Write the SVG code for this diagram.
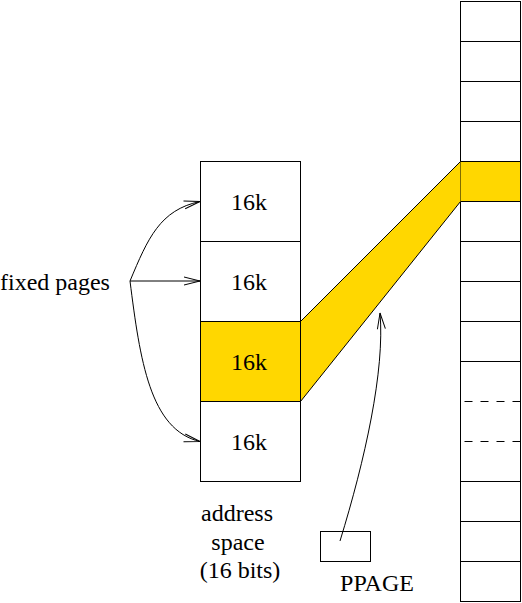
<svg xmlns="http://www.w3.org/2000/svg" width="522" height="603" viewBox="0 0 522 603">
<style>
.b{fill:#fff;stroke:#000;stroke-width:1}
.y{fill:#ffd700;stroke:#000;stroke-width:1}
.l{fill:none;stroke:#000;stroke-width:1}
.d{fill:none;stroke:#000;stroke-width:1;stroke-dasharray:8,8}
.c{text-anchor:middle}
text{font-family:"Liberation Serif",serif !important;font-size:24px}
</style>
<defs>
<marker id="ah" markerUnits="userSpaceOnUse" markerWidth="20" markerHeight="12" refX="16" refY="5" orient="auto" overflow="visible">
<path d="M0,1 L16,5 L0,9" fill="none" stroke="#000" stroke-width="1"/>
</marker>
</defs>
<rect width="522" height="603" fill="#fff"/>
<g id="memory">
<rect class="b" x="460.5" y="1.5" width="60" height="600"/>
<rect class="y" x="460.5" y="161.5" width="60" height="40"/>
<path class="l" d="M460.5,41.5H520.5M460.5,81.5H520.5M460.5,121.5H520.5M460.5,241.5H520.5M460.5,281.5H520.5M460.5,321.5H520.5M460.5,361.5H520.5M460.5,481.5H520.5M460.5,521.5H520.5M460.5,561.5H520.5"/>
<path class="d" d="M464.5,401.5H520.5M464.5,441.5H520.5"/>
</g>
<g id="band">
<polygon points="300.5,321.5 460.5,161.5 460.5,201.5 300.5,401.5" fill="#ffd700" stroke="none"/>
<path class="l" d="M300.5,321.5L460.5,161.5M300.5,401.5L460.5,201.5"/>
</g>
<g id="page1"><rect class="b" x="200.5" y="161.5" width="100" height="80"/><text x="249" y="210" text-anchor="middle" font-family="Liberation Serif" font-size="24" style="font-family:'Liberation Serif',serif !important">16k</text></g>
<g id="page2"><rect class="b" x="200.5" y="241.5" width="100" height="80"/><text x="249" y="290" text-anchor="middle" font-family="Liberation Serif" font-size="24" style="font-family:'Liberation Serif',serif !important">16k</text></g>
<g id="page3"><rect class="y" x="200.5" y="321.5" width="100" height="80"/><text x="249" y="370" text-anchor="middle" font-family="Liberation Serif" font-size="24" style="font-family:'Liberation Serif',serif !important">16k</text></g>
<g id="page4"><rect class="b" x="200.5" y="401.5" width="100" height="80"/><text x="249" y="450" text-anchor="middle" font-family="Liberation Serif" font-size="24" style="font-family:'Liberation Serif',serif !important">16k</text></g>
<g id="ppage"><rect class="b" x="320.5" y="531.5" width="50" height="30"/><text x="377" y="591" text-anchor="middle" font-family="Liberation Serif" font-size="24" style="font-family:'Liberation Serif',serif !important">PPAGE</text></g>
<g id="labels">
<text x="0" y="290" font-family="Liberation Serif" font-size="24" style="font-family:'Liberation Serif',serif !important">fixed pages</text>
<text x="237" y="521" text-anchor="middle" font-family="Liberation Serif" font-size="24" style="font-family:'Liberation Serif',serif !important">address</text>
<text x="238" y="550" text-anchor="middle" font-family="Liberation Serif" font-size="24" style="font-family:'Liberation Serif',serif !important">space</text>
<text x="240" y="578" text-anchor="middle" font-family="Liberation Serif" font-size="24" style="font-family:'Liberation Serif',serif !important">(16 bits)</text>
</g>
<g id="connectors">
<path class="l" d="M130,281 C148,238 160,210 200,201.5" marker-end="url(#ah)"/>
<path class="l" d="M130,281 H200" marker-end="url(#ah)"/>
<path class="l" d="M130,281 C140,360 150,430 200,441.5" marker-end="url(#ah)"/>
<path class="l" d="M340,541 C365,460 385,370 380,313" marker-end="url(#ah)"/>
</g>
</svg>
